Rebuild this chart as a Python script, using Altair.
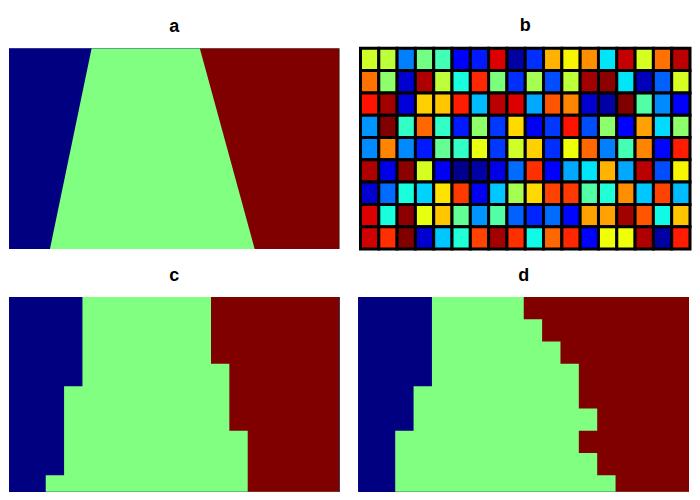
import altair as alt
import pandas as pd

# ---------------- data ----------------
N_COLS = 18
N_ROWS = 9

# panel a: boundaries (in column units) at top (row 0) and bottom (row 9)
a_rows = [0, 9]
a_left = [4.50, 2.23]
a_right = [10.39, 13.38]

# panel b: 9 rows x 18 columns of values on the jet colormap (0..1)
b_values = [
    [0.60, 0.58, 0.25, 0.49, 0.43, 0.11, 0.15, 0.92, 0.03, 0.17, 0.72, 0.65, 0.76, 0.35, 0.94, 0.61, 0.79, 0.95],
    [0.79, 0.52, 0.07, 0.96, 0.58, 0.38, 0.87, 0.50, 0.17, 0.55, 0.20, 0.58, 0.97, 0.99, 0.35, 0.05, 0.22, 0.61],
    [0.89, 0.97, 0.08, 0.69, 0.70, 0.88, 0.31, 0.95, 0.92, 0.29, 0.82, 0.77, 0.07, 0.03, 1.00, 0.45, 0.26, 0.12],
    [0.27, 1.00, 0.41, 0.80, 0.41, 0.15, 0.52, 0.18, 0.68, 0.10, 0.18, 0.89, 0.20, 0.52, 0.11, 0.74, 0.34, 0.52],
    [0.26, 0.77, 0.26, 0.15, 0.47, 0.41, 0.63, 0.18, 0.60, 0.69, 0.17, 0.64, 0.80, 0.25, 0.43, 0.77, 0.13, 0.88],
    [0.96, 0.09, 0.99, 0.61, 0.10, 0.01, 0.03, 0.09, 0.23, 0.86, 0.12, 0.29, 0.35, 0.72, 0.29, 0.95, 0.20, 0.65],
    [0.07, 0.23, 0.38, 0.33, 0.67, 0.85, 0.10, 0.32, 0.55, 0.68, 0.84, 0.85, 0.45, 0.39, 0.76, 0.32, 0.84, 0.31],
    [0.92, 0.38, 0.99, 0.63, 0.70, 0.47, 0.27, 0.45, 0.22, 0.16, 0.23, 0.13, 0.74, 0.74, 0.97, 0.82, 0.37, 0.70],
    [0.93, 0.86, 1.00, 0.07, 0.32, 0.39, 0.84, 0.97, 0.86, 0.37, 0.80, 0.87, 0.12, 0.64, 0.64, 0.96, 0.03, 0.88],
]

# panel c and d: per row, first green column and first red column
c_left = [4, 4, 4, 4, 3, 3, 3, 3, 2]
c_right = [11, 11, 11, 12, 12, 12, 13, 13, 13]
d_left = [4, 4, 4, 4, 3, 3, 2, 2, 2]
d_right = [9, 10, 11, 12, 12, 13, 12, 13, 14]

COLOR_BLUE = "#000080"
COLOR_GREEN = "#80FF80"
COLOR_RED = "#800000"


# ---------------- helpers ----------------
def jet(v):
    seg = {
        "r": [(0, 0), (0.35, 0), (0.66, 1), (0.89, 1), (1, 0.5)],
        "g": [(0, 0), (0.125, 0), (0.375, 1), (0.64, 1), (0.91, 0), (1, 0)],
        "b": [(0, 0.5), (0.11, 1), (0.34, 1), (0.65, 0), (1, 0)],
    }
    out = []
    for ch in "rgb":
        pts = seg[ch]
        val = pts[-1][1]
        for (x0, y0), (x1, y1) in zip(pts[:-1], pts[1:]):
            if x0 <= v <= x1:
                val = y0 + (y1 - y0) * (v - x0) / (x1 - x0)
                break
        out.append(int(round(val * 255)))
    return "#%02x%02x%02x" % tuple(out)


jet_stops = [0, 0.11, 0.125, 0.34, 0.35, 0.375, 0.5, 0.64, 0.65, 0.66, 0.89, 0.91, 1]
jet_range = [jet(s) for s in jet_stops]

W, H = 331, 201      # top row plot size
WB = 330             # panel b plot width (its border lies outside)
HB = 195             # bottom row plot height (page ends below it)
title_kw = dict(fontSize=18, fontWeight="bold", font="Liberation Sans", offset=12, color="black")

xs = alt.Scale(domain=[0, N_COLS], nice=False, zero=False)
ys = alt.Scale(domain=[0, N_ROWS], nice=False, zero=False, reverse=True)
ys_bot = alt.Scale(domain=[0, N_ROWS * HB / H], nice=False, zero=False, reverse=True)


def region_panel(df, yscale, interp, name, height):
    base = alt.Chart(df)
    blue = base.mark_rect(color=COLOR_BLUE, clip=True).encode(
        x=alt.X(datum=0, scale=xs, axis=None),
        x2=alt.X2(datum=N_COLS),
        y=alt.Y(datum=0, scale=yscale, axis=None),
        y2=alt.Y2(datum=N_ROWS),
    )
    green = base.mark_area(color=COLOR_GREEN, orient="horizontal", interpolate=interp, clip=True).encode(
        y=alt.Y("y:Q", scale=yscale, axis=None),
        x=alt.X("left:Q", scale=xs, axis=None, stack=None),
        x2="full:Q",
    )
    red = base.mark_area(color=COLOR_RED, orient="horizontal", interpolate=interp, clip=True).encode(
        y=alt.Y("y:Q", scale=yscale, axis=None),
        x=alt.X("right:Q", scale=xs, axis=None, stack=None),
        x2="full:Q",
    )
    return alt.layer(blue, green, red).properties(
        width=W, height=height, title=alt.TitleParams(name, **title_kw)
    )


def panel_a():
    df = pd.DataFrame({"y": a_rows, "left": a_left, "right": a_right, "full": [N_COLS] * len(a_rows)})
    return region_panel(df, ys, "linear", "a", H)


def panel_steps(lefts, rights, name):
    # row boundaries 0..9; the last row's value closes the step outline
    ys_pts = list(range(N_ROWS + 1))
    df = pd.DataFrame({
        "y": ys_pts,
        "left": lefts + [lefts[-1]],
        "right": rights + [rights[-1]],
        "full": [N_COLS] * len(ys_pts),
    })
    return region_panel(df, ys_bot, "step-before", name, HB)


def panel_b():
    recs = []
    for i, row in enumerate(b_values):
        for j, v in enumerate(row):
            recs.append({"c0": j, "c1": j + 1, "r0": i, "r1": i + 1, "v": v})
    df = pd.DataFrame(recs)
    return alt.Chart(df).mark_rect(stroke="black", strokeWidth=3).encode(
        x=alt.X("c0:Q", scale=xs, axis=None),
        x2="c1:Q",
        y=alt.Y("r0:Q", scale=ys, axis=None),
        y2="r1:Q",
        color=alt.Color("v:Q", scale=alt.Scale(domain=jet_stops, range=jet_range, interpolate="rgb"), legend=None),
    ).properties(width=WB, height=H, title=alt.TitleParams("b", **title_kw))


top = alt.hconcat(panel_a(), panel_b(), spacing=19)
bottom = alt.hconcat(panel_steps(c_left, c_right, "c"), panel_steps(d_left, d_right, "d"), spacing=19)

chart = alt.vconcat(top, bottom, spacing=16).properties(
    padding={"left": 1, "top": 8, "right": 0, "bottom": 0}
).configure_view(stroke=None)

chart.save("out.html", embed_options={"renderer": "svg", "actions": False})
